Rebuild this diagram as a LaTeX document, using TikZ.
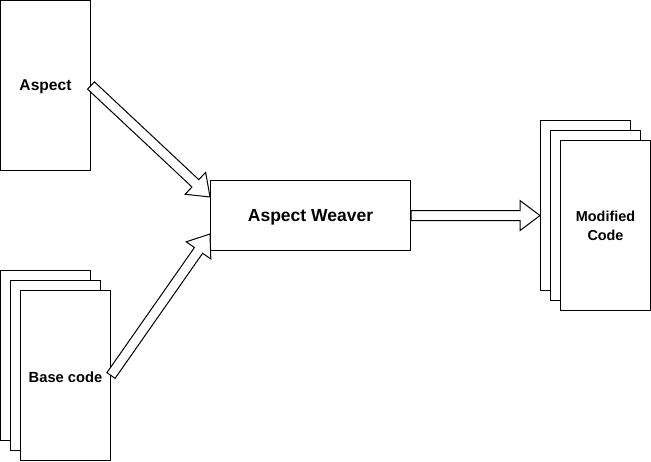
\documentclass[tikz,border=0pt]{standalone}
\usepackage{fontspec}
\setmainfont{Liberation Sans}
\usetikzlibrary{calc}
\newcommand\flexarr[2]{%
  \draw[fatarrow]
    ($(#1)!5pt!90:(#2)$) --
    ($($(#2)!20pt!(#1)$)!5pt!-90:(#1)$) --
    ($($(#2)!20pt!(#1)$)!15pt!-90:(#1)$) --
    (#2) --
    ($($(#2)!20pt!(#1)$)!15pt!90:(#1)$) --
    ($($(#2)!20pt!(#1)$)!5pt!90:(#1)$) --
    ($(#1)!5pt!-90:(#2)$) -- cycle;}
\begin{document}
\begin{tikzpicture}[x=1pt,y=-1pt,
  box/.style={draw=black,fill=white,line width=1pt,inner sep=0pt,anchor=north west},
  sheet/.style={box,minimum width=90pt,minimum height=170pt},
  lbl/.style={align=center},
  fatarrow/.style={draw=black,fill=white,line width=1pt,line join=miter}]
\useasboundingbox (0,0) rectangle (651,461);
% Aspect
\node[sheet] (asp) at (0,0) {};
\node[lbl,font=\bfseries\fontsize{15.6}{18}\selectfont] (aspt) at ($(asp.center)+(0,1.5)$) {Aspect};
% Base code stack
\node[sheet] (b1) at (0,270) {};
\node[sheet] (b2) at (10,280) {};
\node[sheet] (b3) at (20,290) {};
\node[lbl,font=\bfseries\fontsize{14.7}{17}\selectfont] (b3t) at ($(b3.center)+(0,1.5)$) {Base code};
% Modified code stack
\node[sheet] (m1) at (540,120) {};
\node[sheet] (m2) at (550,130) {};
\node[sheet] (m3) at (560,140) {};
\node[lbl,font=\bfseries\fontsize{14.4}{19}\selectfont] (m3t) at ($(m3.center)+(0,0.5)$) {Modified\\Code};
% Weaver
\node[box,minimum width=200pt,minimum height=70pt] (w) at (210,180) {};
\node[lbl,font=\bfseries\fontsize{17.5}{20}\selectfont] (wt) at ($(w.center)+(0,1.5)$) {Aspect Weaver};
% arrow end points
\coordinate (ta) at ($(w.north west)+(0,17)$);
\coordinate (tb) at ($(w.south west)+(0,-17)$);
\coordinate (tm) at (w.east -| m1.west);
\flexarr{asp.east}{ta}
\flexarr{b3.east}{tb}
\flexarr{w.east}{tm}
\end{tikzpicture}
\end{document}
